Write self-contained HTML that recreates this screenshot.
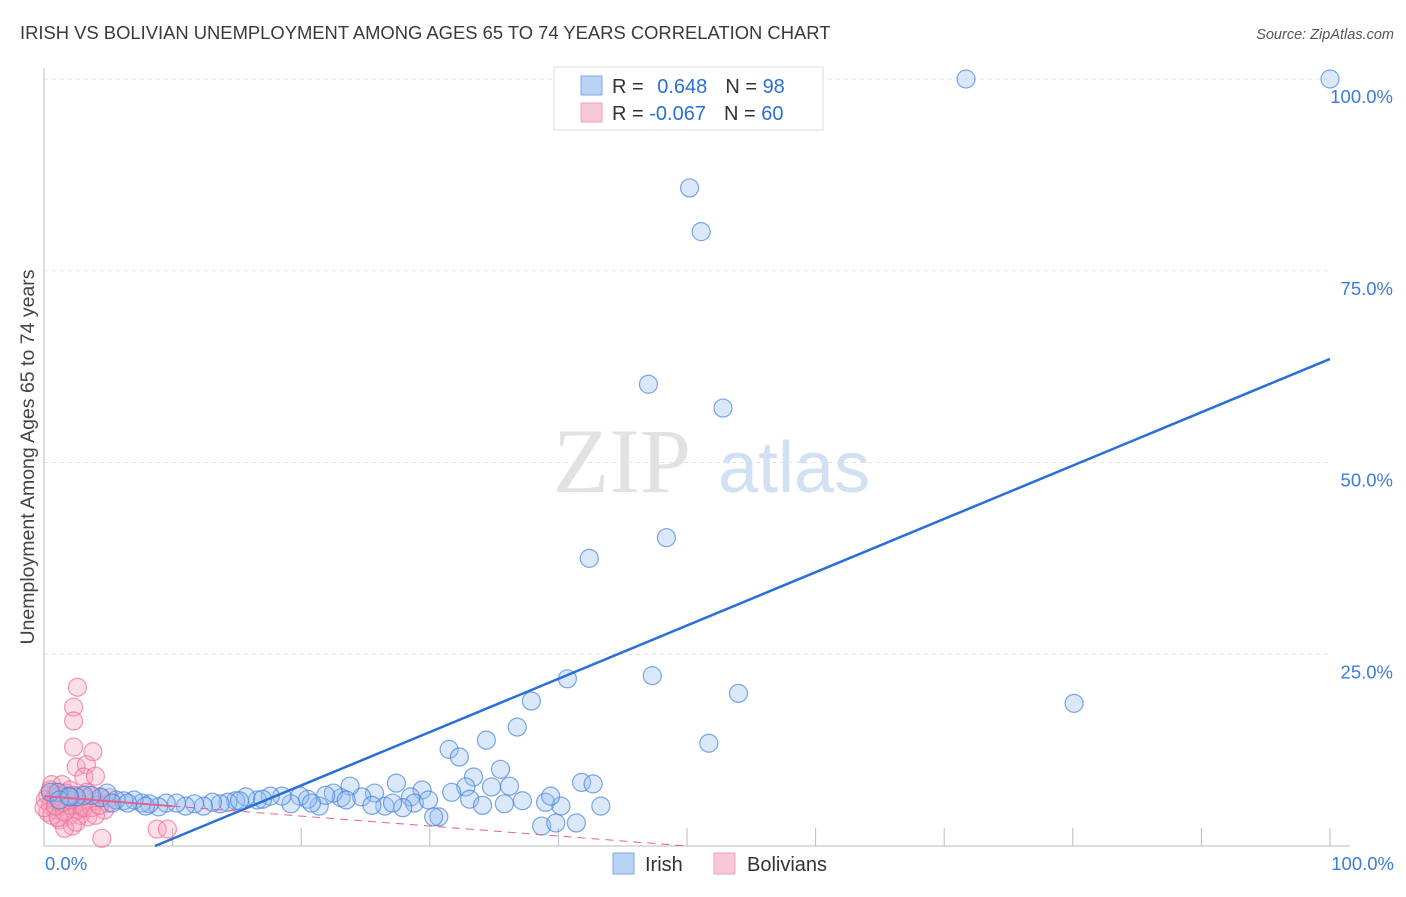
<!DOCTYPE html>
<html><head><meta charset="utf-8"><style>
body{margin:0;background:#fff;font-family:"Liberation Sans",sans-serif}
svg text{font-family:"Liberation Sans",sans-serif}
</style></head><body>
<svg id="c" width="1406" height="892">
<text x="20" y="39" font-size="18.4" fill="#3a3a3a">IRISH VS BOLIVIAN UNEMPLOYMENT AMONG AGES 65 TO 74 YEARS CORRELATION CHART</text>
<text x="1394" y="39" font-size="14.5" fill="#555" text-anchor="end" font-style="italic">Source: ZipAtlas.com</text>
<text x="0" y="0" transform="translate(34,457) rotate(-90)" font-size="19.5" fill="#444" text-anchor="middle">Unemployment Among Ages 65 to 74 years</text>
<g>
<text x="553" y="492" font-size="92" fill="#e2e2e2" font-family="Liberation Serif" style="font-family:'Liberation Serif',serif">ZIP</text>
<text x="718" y="492" font-size="72" fill="#d2e0f4">atlas</text>
</g>
<g id="grid"></g><g id="axes"></g><g id="marks"></g>
<g>
<rect x="554" y="67" width="269" height="63" fill="#fff" stroke="#ddd"/>
<rect x="581" y="76" width="21" height="19" fill="#b9d3f5" stroke="#7aa8e8"/>
<rect x="581" y="103" width="21" height="19" fill="#f9c8d6" stroke="#f0a0b8"/>
<text x="612" y="93" font-size="20" fill="#333">R = <tspan fill="#2b6fd6" dx="8">0.648</tspan><tspan dx="18">N = </tspan><tspan fill="#2b6fd6">98</tspan></text>
<text x="612" y="120" font-size="20" fill="#333">R = <tspan fill="#2b6fd6">-0.067</tspan><tspan dx="18">N = </tspan><tspan fill="#2b6fd6">60</tspan></text>
</g>
<g>
<rect x="613" y="853" width="21" height="21" fill="#b9d3f5" stroke="#7aa8e8"/>
<text x="645" y="871" font-size="20" fill="#333">Irish</text>
<rect x="714" y="853" width="21" height="21" fill="#f9c8d6" stroke="#f0a0b8"/>
<text x="747" y="871" font-size="20" fill="#333">Bolivians</text>
</g>
</svg>
<script>
const yTicks=[25,50,75,100];
const yTickLabels=["25.0%","50.0%","75.0%","100.0%"];
const xTickLabels=["0.0%","100.0%"];
const irishX=[71.7,100,50.2,51.1,47.0,52.8,42.4,48.4,40.7,47.3,54.0,80.1,51.7,37.9,36.8,34.4,31.5,32.3,33.4,35.5,32.8,34.8,36.2,39.0,37.2,40.2,43.3,35.8,41.8,42.7,39.4,38.7,39.8,41.4,30.7,30.3,29.4,28.5,27.4,28.8,27.9,26.5,25.7,24.7,23.8,23.1,22.5,21.4,21.9,20.5,19.9,19.2,18.5,17.6,16.6,15.7,14.9,14.3,13.7,13.1,12.4,11.7,11.0,10.3,9.5,8.9,8.2,7.6,7.0,6.2,5.6,4.9,4.4,3.7,3.1,2.5,1.9,1.1,0.5,1.2,2.0,5.3,6.5,7.9,15.2,17.0,20.8,23.5,25.5,27.1,29.9,31.7,33.1,34.1];
const irishY=[100,100,85.8,80.1,60.2,57.1,37.5,40.2,21.8,22.2,19.9,18.6,13.4,18.9,15.5,13.8,12.6,11.6,9.0,10.0,7.7,7.7,7.8,5.7,5.9,5.2,5.2,5.5,8.3,8.1,6.5,2.6,3.0,3.0,3.8,3.8,7.3,6.4,8.2,5.6,5.0,5.2,6.9,6.4,7.8,6.3,6.9,5.2,6.6,6.1,6.5,5.5,6.5,6.5,6.0,6.4,5.9,5.7,5.5,5.7,5.2,5.5,5.2,5.6,5.6,5.1,5.5,5.6,6.0,5.9,6.0,6.9,6.3,6.6,6.6,6.4,6.5,7.0,7.0,6.0,6.4,5.6,5.6,5.2,5.9,6.1,5.6,6.0,5.3,5.6,6.0,7.0,6.1,5.3];
const bolX=[2.6,2.3,2.3,2.3,3.8,2.5,3.3,3.1,4.0,0.6,1.4,2.0,1.1,0.5,0.3,0.9,1.4,1.7,2.2,2.6,3.0,3.6,4.0,4.4,4.7,2.8,2.0,1.2,2.2,3.4,1.6,4.5,8.8,9.6,5.0,0.8,0.1,0.3,0.9,1.7,2.3,3.0,3.3,1.2,1.9,2.6,3.7,0.5,0.6,0,1.1,2.5,1.6,2.0,3.1,4.0,4.3,5.1,1.4,0.9];
const bolY=[20.7,18.1,16.3,12.9,12.3,10.3,10.6,9.0,9.1,8.0,8.0,7.3,6.0,5.3,6.6,4.7,5.3,6.0,5.2,6.0,5.3,6.6,5.9,6.4,4.7,4.0,4.0,3.4,2.6,3.8,2.3,1.0,2.2,2.2,5.6,6.3,6.0,4.4,7.0,6.9,6.6,6.4,7.0,6.6,5.3,4.7,5.0,7.3,4.0,5.0,3.7,3.1,4.4,6.0,5.0,4.0,5.3,6.3,5.7,5.2];
const irishFit=[0.695,-6.0];
const bolFit=[-0.13,6.5];
const L=44,R=1330,T=79,B=846;
const sx=v=>L+(R-L)*v/100, sy=v=>B-(B-T)*v/100;
const NS="http://www.w3.org/2000/svg";
function mk(p,t,a){const e=document.createElementNS(NS,t);for(const k in a)e.setAttribute(k,a[k]);p.appendChild(e);return e;}
const grid=document.getElementById('grid'),axes=document.getElementById('axes'),marks=document.getElementById('marks');
yTicks.forEach((t,i)=>{
 const g=mk(grid,'line',{x1:L,x2:R,y1:sy(t),y2:sy(t),stroke:'#e3e3e3','stroke-dasharray':'4,4'});
 
 
 const tx=mk(axes,'text',{x:1393,y:sy(t)+24,'font-size':18.5,fill:'#3b7ddd','text-anchor':'end'});
 tx.textContent=yTickLabels[i];
 
 
});
const ax=mk(axes,'line',{x1:L,x2:L,y1:68,y2:B,stroke:'#bbb'});


const bx=mk(axes,'line',{x1:L,x2:R+20,y1:B,y2:B,stroke:'#bbb'});


for(let i=1;i<=10;i++){
 const t=mk(axes,'line',{x1:sx(i*10),x2:sx(i*10),y1:B,y2:B-18,stroke:'#bbb'});
 
 
}
[[0,'start',45],[100,'end',1394]].forEach((d,i)=>{
 const t=mk(axes,'text',{x:d[2],y:870,'font-size':18.5,fill:'#3b7ddd','text-anchor':d[1]});
 t.textContent=xTickLabels[i];
 
 
});
bolX.forEach((x,i)=>{
 const c=mk(marks,'circle',{cx:sx(x),cy:sy(bolY[i]),r:9,fill:'rgba(246,160,185,0.35)',stroke:'rgba(236,110,150,0.7)','stroke-width':1.2});
 
 
});
irishX.forEach((x,i)=>{
 const c=mk(marks,'circle',{cx:sx(x),cy:sy(irishY[i]),r:9,fill:'rgba(150,190,240,0.35)',stroke:'rgba(70,130,220,0.7)','stroke-width':1.2});
 
 
});
const x0=-irishFit[1]/irishFit[0];
const il=mk(marks,'line',{x1:sx(x0),y1:sy(0),x2:sx(100),y2:sy(irishFit[0]*100+irishFit[1]),stroke:'#2a6fd8','stroke-width':2.5});


const bEnd=-bolFit[1]/bolFit[0];
const bl1=mk(marks,'line',{x1:sx(0),y1:sy(bolFit[1]),x2:sx(10),y2:sy(bolFit[0]*10+bolFit[1]),stroke:'#e8608a','stroke-width':2});


const bl2=mk(marks,'line',{x1:sx(10),y1:sy(bolFit[0]*10+bolFit[1]),x2:sx(bEnd),y2:sy(0),stroke:'#e8608a','stroke-width':1,'stroke-dasharray':'8,6'});


</script>
</body></html>
